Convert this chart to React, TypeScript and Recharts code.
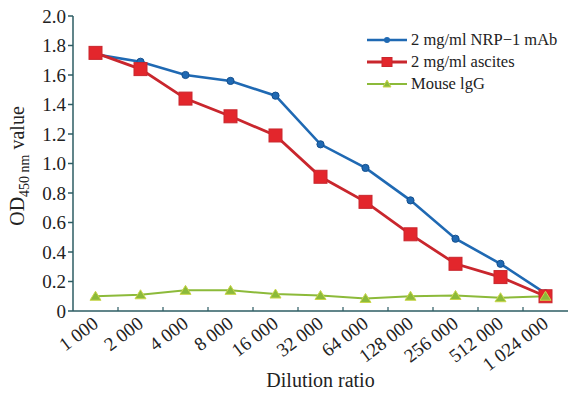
import { LineChart, Line, XAxis, YAxis, Legend } from "recharts";

const dilutions = ["1 000", "2 000", "4 000", "8 000", "16 000", "32 000", "64 000", "128 000", "256 000", "512 000", "1 024 000"];
const nrpMab = [1.74, 1.69, 1.6, 1.56, 1.46, 1.13, 0.97, 0.75, 0.49, 0.32, 0.12];
const ascites = [1.75, 1.64, 1.44, 1.32, 1.19, 0.91, 0.74, 0.52, 0.32, 0.23, 0.1];
const mouseIgG = [0.1, 0.11, 0.14, 0.14, 0.115, 0.105, 0.085, 0.1, 0.105, 0.09, 0.1];
const yTicks = [0, 0.2, 0.4, 0.6, 0.8, 1.0, 1.2, 1.4, 1.6, 1.8, 2.0];

const W = 570;
const H = 395;
const Y_W = 73;
const M_RIGHT = 2;
const band = (W - Y_W - M_RIGHT) / dilutions.length;

const FONT = "Liberation Serif, DejaVu Serif, serif";
const AXIS = "#2d5c63";
const BLUE = "#1f69b3";
const RED = "#c9262d";
const RED_FILL = "#e3262c";
const GREEN = "#8cba3a";

const data = dilutions.map((d, i) => ({
  dilution: d,
  mab: nrpMab[i],
  ascites: ascites[i],
  igg: mouseIgG[i],
}));

const series = [
  { key: "mab", name: "2 mg/ml NRP\u22121 mAb", color: BLUE, width: 2.6, shape: "dot" },
  { key: "ascites", name: "2 mg/ml ascites", color: RED, width: 2.8, shape: "square" },
  { key: "igg", name: "Mouse lgG", color: GREEN, width: 2, shape: "tri" },
];

function Marker({ shape, cx, cy }: { shape: string; cx: number; cy: number }) {
  if (shape === "square")
    return <rect x={cx - 6.5} y={cy - 6.5} width={13} height={13} fill={RED_FILL} stroke={RED} strokeWidth={1} />;
  if (shape === "tri")
    return (
      <path
        d={`M${cx},${cy - 5} L${cx + 5.5},${cy + 4} L${cx - 5.5},${cy + 4} Z`}
        fill={GREEN}
        stroke="#c9d64a"
        strokeWidth={1}
      />
    );
  return <circle cx={cx} cy={cy} r={3.6} fill={BLUE} stroke="#15508e" strokeWidth={1} />;
}

function makeDot(shape: string) {
  return (props: any) => {
    const { cx, cy, index } = props;
    if (cx == null || cy == null) return <g key={index} />;
    return <Marker key={index} shape={shape} cx={cx} cy={cy} />;
  };
}

function XTick(props: any) {
  const { x, y, payload, index } = props;
  const ax = x + 4;
  const ay = y + 15;
  return (
    <g>
      {index < dilutions.length - 1 && (
        <line x1={x + band / 2} x2={x + band / 2} y1={y} y2={y - 4} stroke={AXIS} strokeWidth={1.2} />
      )}
      <text
        x={ax}
        y={ay}
        textAnchor="end"
        fontSize={19}
        fontFamily={FONT}
        fill="#222"
        transform={`rotate(-37 ${ax} ${ay})`}
      >
        {payload.value}
      </text>
    </g>
  );
}

function YTitle() {
  const x = 24;
  const y = 166;
  return (
    <text
      x={x}
      y={y}
      textAnchor="middle"
      fontSize={20}
      fontFamily={FONT}
      fill="#222"
      transform={`rotate(-90 ${x} ${y})`}
    >
      OD
      <tspan fontSize={14} dy={5}>
        450 nm
      </tspan>
      <tspan dy={-5}> value</tspan>
    </text>
  );
}

function XTitle(props: any) {
  const vb = props.viewBox || { x: Y_W, y: 311, width: W - Y_W - M_RIGHT };
  return (
    <text x={vb.x + vb.width / 2} y={vb.y + 76} textAnchor="middle" fontSize={20} fontFamily={FONT} fill="#222">
      Dilution ratio
    </text>
  );
}

function LegendBox() {
  return (
    <div style={{ fontFamily: FONT, fontSize: 16.5, color: "#222" }}>
      {series.map((s) => (
        <div key={s.key} style={{ display: "flex", alignItems: "center", height: 22 }}>
          <svg width={42} height={16} style={{ marginRight: 3 }}>
            <line x1={1} x2={41} y1={8} y2={8} stroke={s.color} strokeWidth={s.width} />
            {s.shape === "square" ? (
              <rect x={16} y={3.5} width={10} height={9} fill={RED_FILL} stroke={RED} />
            ) : s.shape === "tri" ? (
              <path d="M21,4 L25,11 L17,11 Z" fill={GREEN} stroke="#c9d64a" />
            ) : (
              <circle cx={21} cy={8} r={3} fill={BLUE} />
            )}
          </svg>
          <span style={{ whiteSpace: "nowrap" }}>{s.name}</span>
        </div>
      ))}
    </div>
  );
}

export default function App() {
  return (
    <div style={{ position: "absolute", left: 0, top: 0, width: W, height: H, background: "#fff" }}>
      <LineChart width={W} height={H} data={data} margin={{ top: 16, right: M_RIGHT, bottom: 0, left: 0 }}>
        <XAxis
          dataKey="dilution"
          interval={0}
          height={84}
          padding={{ left: band / 2, right: band / 2 }}
          stroke={AXIS}
          strokeWidth={1.5}
          tickLine={false}
          tickSize={0}
          tickMargin={0}
          tick={<XTick />}
          label={<XTitle />}
        />
        <YAxis
          domain={[0, 2]}
          ticks={yTicks}
          width={Y_W}
          stroke={AXIS}
          strokeWidth={1.5}
          tickSize={5}
          tickMargin={2}
          tick={{ fontSize: 19, fontFamily: FONT, fill: "#222" }}
          tickFormatter={(v: number) => (v === 0 ? "0" : v.toFixed(1))}
          label={<YTitle />}
        />
        <Legend
          layout="horizontal"
          verticalAlign="middle"
          align="center"
          wrapperStyle={{ top: 29, left: 366, width: 204 }}
          content={<LegendBox />}
        />
        {series.map((s) => (
          <Line
            key={s.key}
            dataKey={s.key}
            name={s.name}
            type="linear"
            stroke={s.color}
            strokeWidth={s.width}
            dot={makeDot(s.shape)}
            activeDot={false}
            isAnimationActive={false}
          />
        ))}
      </LineChart>
    </div>
  );
}
